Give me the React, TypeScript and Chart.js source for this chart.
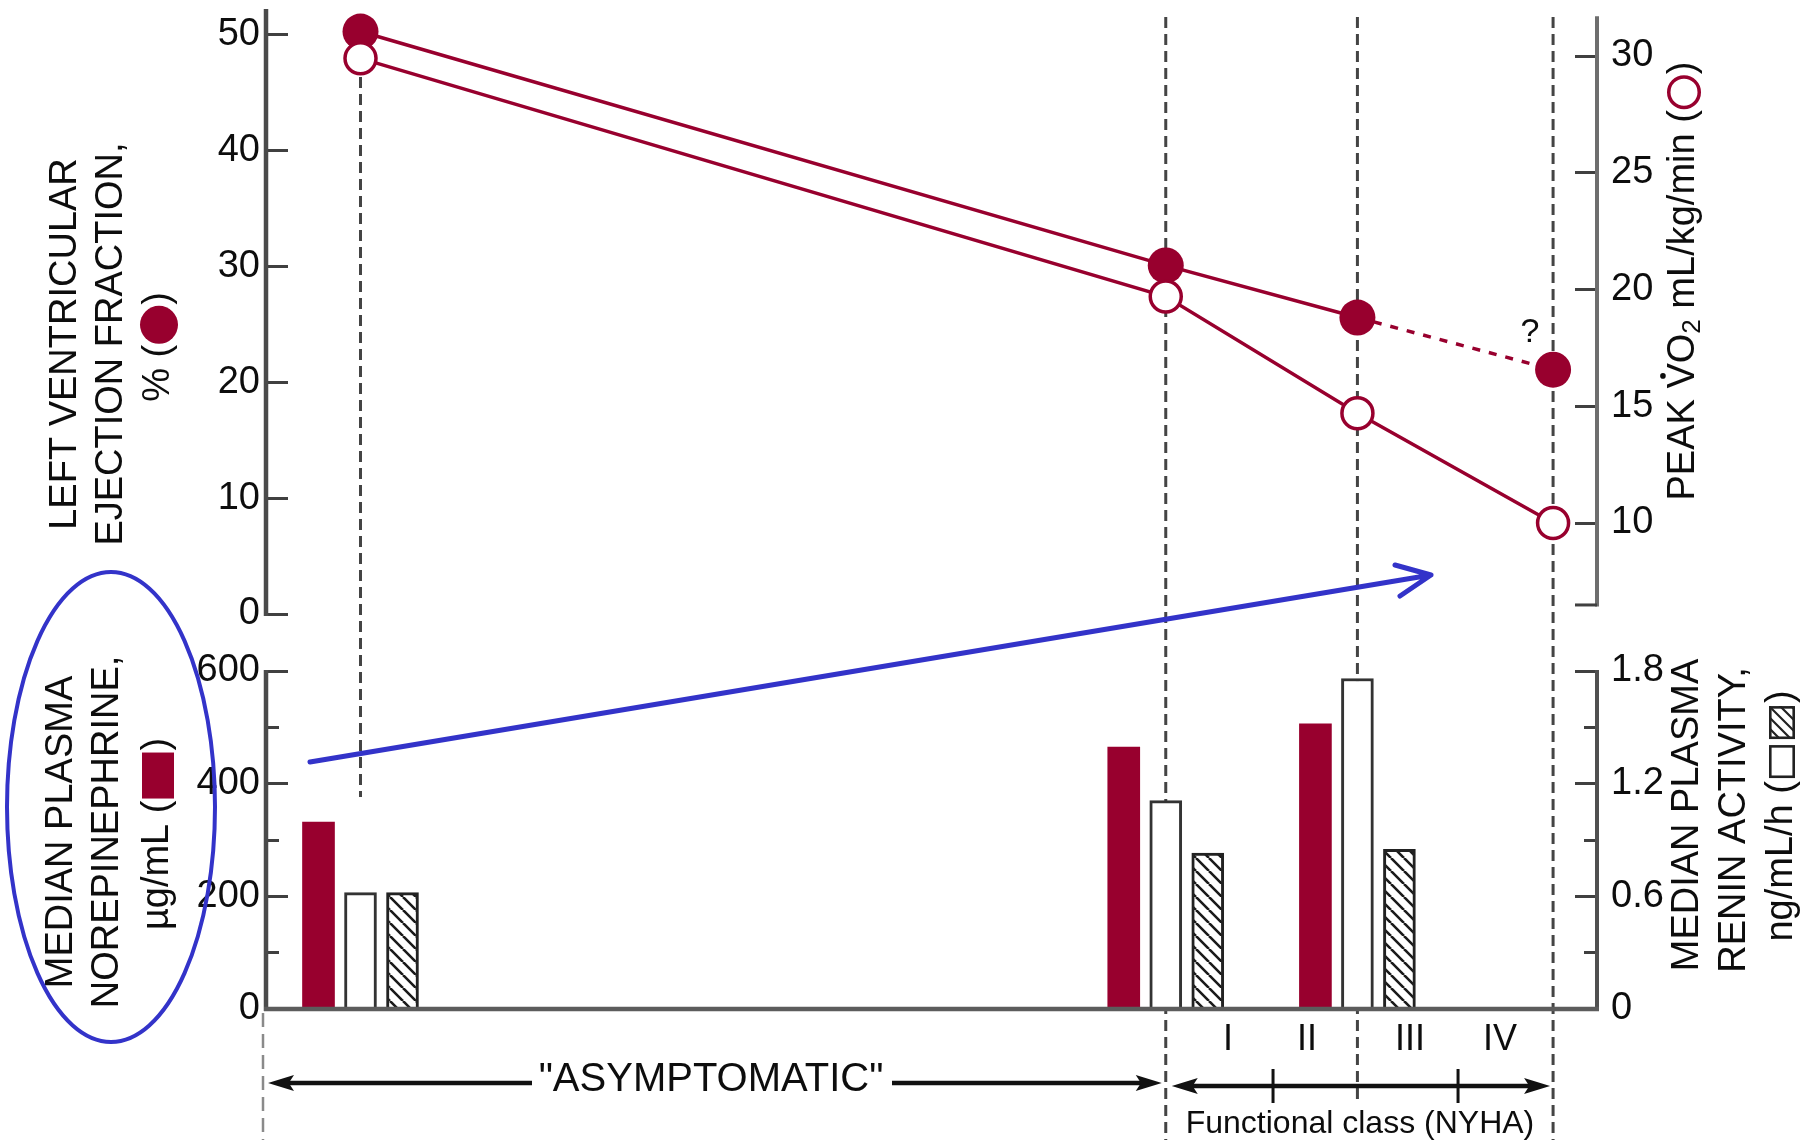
import React, { useEffect, useRef } from 'react';
import { Chart, registerables } from 'chart.js';

Chart.register(...registerables);

// ---------------- data ----------------
// position of each clinical stage along the progression axis (0–100)
const stagePositions = [7.1, 67.6, 82.0, 96.7];
const ejectionFraction = [50.3, 30.1, 25.6, 21.1]; // LVEF, % (filled circles)
const peakVO2 = [29.9, 19.7, 14.7, 10.0]; // mL/kg/min (open circles)
const barStagePositions = [7.1, 67.6, 82.0];
const norepinephrine = [332, 465, 506]; // median plasma norepinephrine
const reninOpen = [0.62, 1.11, 1.76]; // renin activity (open bars)
const reninHatched = [0.62, 0.83, 0.85]; // renin activity (hatched bars)
const efTicks = [0, 10, 20, 30, 40, 50];
const vo2Ticks = [10, 15, 20, 25, 30];
const neTicks = [0, 100, 200, 300, 400, 500, 600];
const neLabelled = [0, 200, 400, 600];
const reninTicks = [0, 0.3, 0.6, 0.9, 1.2, 1.5, 1.8];
const reninLabelled = [0, 0.6, 1.2, 1.8];
const nyhaClasses = ['I', 'II', 'III', 'IV'];
const nyhaBoundaries = [67.6, 75.66, 82.04, 89.56, 96.7];

// ---------------- layout / style ----------------
const W = 1814;
const H = 1140;
const PLOT_L = 266;
const PLOT_R = 1597;
const AXIS_W = 120;
const TOP_SHIFT = 100;
const TOP_H = 820;
const TOP_AREA = [9, 614];
const BOT_AREA = [671, 1009];
const VO2_AXIS_EXTENT = [6.49, 31.7];
const GUIDE_EXTENTS = [
  [60, 797],
  [17, 1140],
  [17, 1105],
  [17, 1140],
];
const NYHA_LABEL_X = [1228, 1307, 1410, 1500];

const RED = '#98002e';
const BLUE = '#3333c9';
const TEXT = '#0d0d0d';
const AXIS_DARK = '#4a4a4a';
const AXIS_LIGHT = '#6e6e6e';
const TICK = '#404040';
const GUIDE = '#444444';
const FAMILY = "'Liberation Sans', Arial, Helvetica, sans-serif";
const TICK_FONT = { family: FAMILY, size: 38 };
const TITLE_SIZE = 38;

const fixWidth = (scale: any) => {
  scale.width = AXIS_W;
};
const setTicks = (vals: number[]) => (scale: any) => {
  scale.ticks = vals.map((v) => ({ value: v }));
};
const near = (a: number, b: number) => Math.abs(a - b) < 1e-6;

function yAxis(position: 'left' | 'right', min: number, max: number, ticks: number[], labelled: number[], decimals: number, minorTicks: boolean) {
  const gap = position === 'left' ? 6 : 14;
  return {
    type: 'linear',
    position,
    min,
    max,
    afterFit: fixWidth,
    afterBuildTicks: setTicks(ticks),
    border: { display: false },
    grid: {
      display: true,
      drawOnChartArea: false,
      drawTicks: true,
      tickLength: -22,
      tickWidth: 3,
      tickColor: TICK,
      tickBorderDash: (c: any) => {
        if (!minorTicks || !c.tick) return [];
        const isMinor = !labelled.some((v) => near(v, c.tick.value));
        if (!isMinor) return [];
        return position === 'left' ? [0, 9, 13, 100] : [13, 100];
      },
    },
    ticks: {
      autoSkip: false,
      padding: 22 + gap,
      font: TICK_FONT,
      color: TEXT,
      callback: (v: number) => {
        if (!labelled.some((l) => near(l, v))) return '';
        if (v === 0) return '0';
        return decimals ? v.toFixed(decimals) : String(v);
      },
    },
  };
}

// ---------------- drawing helpers ----------------
type Seg = {
  t?: string;
  size?: number;
  dy?: number;
  dotOver?: boolean;
  shape?: 'dot' | 'ring' | 'rect' | 'openRect' | 'hatchRect';
  w?: number;
  h?: number;
  pad?: number;
};

function drawVerticalRich(ctx: CanvasRenderingContext2D, cx: number, cy: number, segs: Seg[], size: number) {
  ctx.save();
  ctx.translate(cx, cy);
  ctx.rotate(-Math.PI / 2);
  ctx.textBaseline = 'middle';
  ctx.textAlign = 'left';
  const widths = segs.map((s) => {
    if (s.t !== undefined) {
      ctx.font = `${s.size ?? size}px ${FAMILY}`;
      return ctx.measureText(s.t).width;
    }
    return (s.w ?? 0) + 2 * (s.pad ?? 2);
  });
  const total = widths.reduce((a, b) => a + b, 0);
  let x = -total / 2;
  segs.forEach((s, i) => {
    const w = widths[i];
    if (s.t !== undefined) {
      const sz = s.size ?? size;
      ctx.font = `${sz}px ${FAMILY}`;
      ctx.fillStyle = TEXT;
      ctx.fillText(s.t, x, s.dy ?? 0);
      if (s.dotOver) {
        const lw = ctx.measureText(s.t.slice(-1)).width;
        ctx.beginPath();
        ctx.arc(x + w - lw / 2, -(0.37 * sz + 7), 2.8, 0, Math.PI * 2);
        ctx.fill();
      }
    } else {
      const pad = s.pad ?? 2;
      const sw = s.w ?? 0;
      const sh = s.h ?? 0;
      const x0 = x + pad;
      if (s.shape === 'dot') {
        ctx.fillStyle = RED;
        ctx.beginPath();
        ctx.arc(x0 + sw / 2, 0, sw / 2, 0, Math.PI * 2);
        ctx.fill();
      } else if (s.shape === 'ring') {
        ctx.strokeStyle = RED;
        ctx.lineWidth = 3.5;
        ctx.beginPath();
        ctx.arc(x0 + sw / 2, 0, sw / 2 - 1.75, 0, Math.PI * 2);
        ctx.stroke();
      } else if (s.shape === 'rect') {
        ctx.fillStyle = RED;
        ctx.fillRect(x0, -sh / 2, sw, sh);
      } else if (s.shape === 'openRect' || s.shape === 'hatchRect') {
        ctx.fillStyle = '#fff';
        ctx.fillRect(x0, -sh / 2, sw, sh);
        if (s.shape === 'hatchRect') {
          ctx.save();
          ctx.beginPath();
          ctx.rect(x0, -sh / 2, sw, sh);
          ctx.clip();
          ctx.strokeStyle = '#222';
          ctx.lineWidth = 2.2;
          ctx.beginPath();
          for (let o = -sh; o < sw + sh; o += 11) {
            ctx.moveTo(x0 + o, sh / 2);
            ctx.lineTo(x0 + o + sh, -sh / 2);
          }
          ctx.stroke();
          ctx.restore();
        }
        ctx.strokeStyle = '#222';
        ctx.lineWidth = 2.6;
        ctx.strokeRect(x0 + 1.3, -sh / 2 + 1.3, sw - 2.6, sh - 2.6);
      }
    }
    x += w;
  });
  ctx.restore();
}

function drawText(ctx: CanvasRenderingContext2D, s: string, x: number, y: number, size: number) {
  ctx.font = `${size}px ${FAMILY}`;
  ctx.fillStyle = TEXT;
  ctx.textAlign = 'center';
  ctx.textBaseline = 'middle';
  ctx.fillText(s, x, y);
}

function arrowHead(ctx: CanvasRenderingContext2D, tipX: number, tipY: number, dir: number) {
  const len = 26;
  const half = 8;
  ctx.beginPath();
  ctx.moveTo(tipX, tipY);
  ctx.lineTo(tipX - dir * len, tipY - half);
  ctx.lineTo(tipX - dir * len * 0.8, tipY);
  ctx.lineTo(tipX - dir * len, tipY + half);
  ctx.closePath();
  ctx.fill();
}

function makeHatch(): CanvasPattern | string {
  const s = 13;
  const c = document.createElement('canvas');
  c.width = s;
  c.height = s;
  const g = c.getContext('2d');
  if (!g) return '#fff';
  g.fillStyle = '#fff';
  g.fillRect(0, 0, s, s);
  g.strokeStyle = '#1a1a1a';
  g.lineWidth = 2.6;
  g.beginPath();
  for (const o of [-s, 0, s]) {
    g.moveTo(o, 0);
    g.lineTo(o + s, s);
  }
  g.stroke();
  return g.createPattern(c, 'repeat') ?? '#fff';
}

// ---------------- plugins ----------------
const topAxesPlugin = {
  id: 'topAxes',
  beforeDatasetsDraw(chart: any) {
    const { ctx, chartArea, scales } = chart;
    const yEF = scales.yEF;
    const yV = scales.yVO2;
    ctx.save();
    ctx.strokeStyle = AXIS_DARK;
    ctx.lineWidth = 4.5;
    ctx.beginPath();
    ctx.moveTo(chartArea.left, chartArea.top);
    ctx.lineTo(chartArea.left, yEF.getPixelForValue(0) + 2);
    ctx.stroke();
    const yTop = yV.getPixelForValue(VO2_AXIS_EXTENT[1]);
    const yBot = yV.getPixelForValue(VO2_AXIS_EXTENT[0]);
    ctx.strokeStyle = AXIS_LIGHT;
    ctx.lineWidth = 4;
    ctx.beginPath();
    ctx.moveTo(chartArea.right, yTop);
    ctx.lineTo(chartArea.right, yBot + 1.5);
    ctx.stroke();
    ctx.strokeStyle = TICK;
    ctx.lineWidth = 3;
    ctx.beginPath();
    ctx.moveTo(chartArea.right - 22, yBot);
    ctx.lineTo(chartArea.right, yBot);
    ctx.stroke();
    ctx.restore();
  },
};

const bottomPlugin = {
  id: 'bottomDecor',
  beforeDatasetsDraw(chart: any) {
    const { ctx, scales, chartArea } = chart;
    const x = scales.x;
    ctx.save();
    ctx.strokeStyle = GUIDE;
    ctx.lineWidth = 3;
    ctx.setLineDash([11, 6]);
    stagePositions.forEach((p, i) => {
      const px = x.getPixelForValue(p);
      const [y0, y1] = GUIDE_EXTENTS[i];
      ctx.beginPath();
      ctx.moveTo(px, y0);
      ctx.lineTo(px, y1);
      ctx.stroke();
    });
    ctx.strokeStyle = '#8a8a8a';
    ctx.lineWidth = 2.5;
    ctx.setLineDash([14, 7]);
    ctx.beginPath();
    ctx.moveTo(chartArea.left - 3, chartArea.bottom + 4);
    ctx.lineTo(chartArea.left - 3, H);
    ctx.stroke();
    ctx.restore();
  },
  afterDatasetsDraw(chart: any) {
    const { ctx, scales, chartArea } = chart;
    const yNE = scales.yNE;
    const yR = scales.yRen;
    const base = yNE.getPixelForValue(0);
    ctx.save();
    ctx.strokeStyle = AXIS_DARK;
    ctx.lineWidth = 4.5;
    ctx.beginPath();
    ctx.moveTo(chartArea.left, yNE.getPixelForValue(600) - 1);
    ctx.lineTo(chartArea.left, base + 2);
    ctx.stroke();
    ctx.lineWidth = 4;
    ctx.strokeStyle = '#505050';
    ctx.beginPath();
    ctx.moveTo(chartArea.right, yR.getPixelForValue(1.8) - 1);
    ctx.lineTo(chartArea.right, base + 2);
    ctx.stroke();
    ctx.strokeStyle = '#5c5c5c';
    ctx.lineWidth = 4.5;
    ctx.beginPath();
    ctx.moveTo(chartArea.left - 2, base);
    ctx.lineTo(chartArea.right + 2, base);
    ctx.stroke();
    ctx.restore();
  },
  afterDraw(chart: any) {
    const { ctx, scales } = chart;
    const x = scales.x;
    ctx.save();

    // ---- axis titles ----
    drawVerticalRich(ctx, 66, 344, [{ t: 'LEFT VENTRICULAR' }], TITLE_SIZE);
    drawVerticalRich(ctx, 112, 344, [{ t: 'EJECTION FRACTION,' }], TITLE_SIZE);
    drawVerticalRich(ctx, 159, 347, [{ t: '% (' }, { shape: 'dot', w: 38, pad: 1 }, { t: ')' }], TITLE_SIZE);

    drawVerticalRich(ctx, 62, 832, [{ t: 'MEDIAN PLASMA' }], TITLE_SIZE);
    drawVerticalRich(ctx, 108, 832, [{ t: 'NOREPINEPHRINE,' }], TITLE_SIZE);
    drawVerticalRich(ctx, 158, 834, [{ t: 'µg/mL (' }, { shape: 'rect', w: 46, h: 32, pad: 2 }, { t: ')' }], TITLE_SIZE);

    drawVerticalRich(
      ctx,
      1684,
      281,
      [
        { t: 'PEAK V', dotOver: true },
        { t: 'O' },
        { t: '2', size: 26, dy: 9 },
        { t: ' mL/kg/min (' },
        { shape: 'ring', w: 34, pad: 1 },
        { t: ')' },
      ],
      TITLE_SIZE
    );

    drawVerticalRich(ctx, 1688, 815, [{ t: 'MEDIAN PLASMA' }], TITLE_SIZE);
    drawVerticalRich(ctx, 1735, 820, [{ t: 'RENIN ACTIVITY,' }], TITLE_SIZE);
    drawVerticalRich(
      ctx,
      1782,
      816,
      [
        { t: 'ng/mL/h (' },
        { shape: 'openRect', w: 33, h: 26, pad: 3 },
        { shape: 'hatchRect', w: 33, h: 26, pad: 3 },
        { t: ')' },
      ],
      TITLE_SIZE
    );

    // ---- "?" on the uncertain segment ----
    drawText(ctx, '?', 1530, 333, 34);

    // ---- NYHA class labels ----
    nyhaClasses.forEach((c, i) => drawText(ctx, c, NYHA_LABEL_X[i], 1040, 36));

    // ---- "ASYMPTOMATIC" double arrow ----
    ctx.strokeStyle = '#111';
    ctx.fillStyle = '#111';
    ctx.lineWidth = 4.5;
    const ay = 1083;
    const aL = 268;
    const aR = x.getPixelForValue(stagePositions[1]) - 4;
    ctx.beginPath();
    ctx.moveTo(aL + 12, ay);
    ctx.lineTo(532, ay);
    ctx.moveTo(892, ay);
    ctx.lineTo(aR - 12, ay);
    ctx.stroke();
    arrowHead(ctx, aL, ay, -1);
    arrowHead(ctx, aR, ay, 1);
    drawText(ctx, '"ASYMPTOMATIC"', 711, 1080, 40);

    // ---- Functional class arrow ----
    const fy = 1086;
    const fL = x.getPixelForValue(nyhaBoundaries[0]) + 6;
    const fR = x.getPixelForValue(nyhaBoundaries[nyhaBoundaries.length - 1]) - 3;
    ctx.strokeStyle = '#111';
    ctx.fillStyle = '#111';
    ctx.lineWidth = 4.5;
    ctx.beginPath();
    ctx.moveTo(fL + 12, fy);
    ctx.lineTo(fR - 12, fy);
    ctx.stroke();
    arrowHead(ctx, fL, fy, -1);
    arrowHead(ctx, fR, fy, 1);
    ctx.lineWidth = 3;
    [nyhaBoundaries[1], nyhaBoundaries[3]].forEach((b) => {
      const bx = x.getPixelForValue(b);
      ctx.beginPath();
      ctx.moveTo(bx, fy - 17);
      ctx.lineTo(bx, fy + 17);
      ctx.stroke();
    });
    drawText(ctx, 'Functional class (NYHA)', 1360, 1124, 32);

    // ---- blue annotation ----
    ctx.strokeStyle = BLUE;
    ctx.lineWidth = 4;
    ctx.beginPath();
    ctx.ellipse(111, 807, 104, 235, 0, 0, Math.PI * 2);
    ctx.stroke();
    ctx.lineWidth = 5;
    ctx.lineCap = 'round';
    ctx.lineJoin = 'round';
    ctx.beginPath();
    ctx.moveTo(310, 762);
    ctx.lineTo(1431, 575);
    ctx.moveTo(1395, 565);
    ctx.lineTo(1431, 575);
    ctx.lineTo(1400, 596);
    ctx.stroke();

    ctx.restore();
  },
};

// ---------------- component ----------------
export default function App() {
  const topRef = useRef<HTMLCanvasElement>(null);
  const botRef = useRef<HTMLCanvasElement>(null);

  useEffect(() => {
    if (!topRef.current || !botRef.current) return;
    const hatch = makeHatch();

    const topChart = new Chart(topRef.current, {
      type: 'line',
      data: {
        datasets: [
          {
            label: 'Peak VO2',
            yAxisID: 'yVO2',
            data: stagePositions.map((x, i) => ({ x, y: peakVO2[i] })),
            borderColor: RED,
            borderWidth: 3.5,
            pointRadius: 15.5,
            pointBackgroundColor: '#ffffff',
            pointBorderColor: RED,
            pointBorderWidth: 3.5,
            tension: 0,
            clip: false,
          },
          {
            label: 'LVEF',
            yAxisID: 'yEF',
            data: stagePositions.map((x, i) => ({ x, y: ejectionFraction[i] })),
            borderColor: RED,
            borderWidth: 3.5,
            pointRadius: 18,
            pointBackgroundColor: RED,
            pointBorderColor: RED,
            pointBorderWidth: 0,
            tension: 0,
            clip: false,
            segment: {
              borderDash: (c: any) => (c.p0DataIndex === 2 ? [8, 9] : undefined),
            },
          },
        ],
      } as any,
      options: {
        responsive: false,
        animation: false,
        events: [],
        layout: {
          autoPadding: false,
          padding: {
            left: PLOT_L - AXIS_W,
            right: W - PLOT_R - AXIS_W,
            top: TOP_AREA[0] + TOP_SHIFT,
            bottom: TOP_H - (TOP_AREA[1] + TOP_SHIFT),
          },
        },
        plugins: { legend: { display: false }, tooltip: { enabled: false } },
        scales: {
          x: { type: 'linear', min: 0, max: 100, display: false, offset: false },
          yEF: yAxis('left', 0, 52.245, efTicks, efTicks, 0, false),
          yVO2: yAxis('right', 6.103, 32.013, vo2Ticks, vo2Ticks, 0, false),
        },
      } as any,
      plugins: [topAxesPlugin],
    });

    const botChart = new Chart(botRef.current, {
      type: 'bar',
      data: {
        datasets: [
          {
            label: 'Norepinephrine',
            yAxisID: 'yNE',
            data: barStagePositions.map((x, i) => ({ x, y: norepinephrine[i] })),
            backgroundColor: RED,
            borderWidth: 0,
          },
          {
            label: 'Renin (open)',
            yAxisID: 'yRen',
            data: barStagePositions.map((x, i) => ({ x, y: reninOpen[i] })),
            backgroundColor: '#ffffff',
            borderColor: '#333333',
            borderWidth: 3,
          },
          {
            label: 'Renin (hatched)',
            yAxisID: 'yRen',
            data: barStagePositions.map((x, i) => ({ x, y: reninHatched[i] })),
            backgroundColor: hatch,
            borderColor: '#222222',
            borderWidth: 3,
          },
        ],
      } as any,
      options: {
        responsive: false,
        animation: false,
        events: [],
        datasets: { bar: { barThickness: 42, maxBarThickness: 32, grouped: true } },
        layout: {
          autoPadding: false,
          padding: {
            left: PLOT_L - AXIS_W,
            right: W - PLOT_R - AXIS_W,
            top: BOT_AREA[0],
            bottom: H - BOT_AREA[1],
          },
        },
        plugins: { legend: { display: false }, tooltip: { enabled: false } },
        scales: {
          x: { type: 'linear', min: 0, max: 100, display: false, offset: false },
          yNE: yAxis('left', 0, 600, neTicks, neLabelled, 0, true),
          yRen: yAxis('right', 0, 1.8, reninTicks, reninLabelled, 1, true),
        },
      } as any,
      plugins: [bottomPlugin],
    });

    return () => {
      topChart.destroy();
      botChart.destroy();
    };
  }, []);

  return (
    <div
      style={{
        position: 'absolute',
        left: 0,
        top: 0,
        width: W,
        height: H,
        overflow: 'hidden',
        background: '#ffffff',
      }}
    >
      <canvas
        ref={botRef}
        width={W}
        height={H}
        style={{ position: 'absolute', left: 0, top: 0, width: W, height: H, display: 'block' }}
      />
      <canvas
        ref={topRef}
        width={W}
        height={TOP_H}
        style={{ position: 'absolute', left: 0, top: -TOP_SHIFT, width: W, height: TOP_H, display: 'block' }}
      />
    </div>
  );
}
